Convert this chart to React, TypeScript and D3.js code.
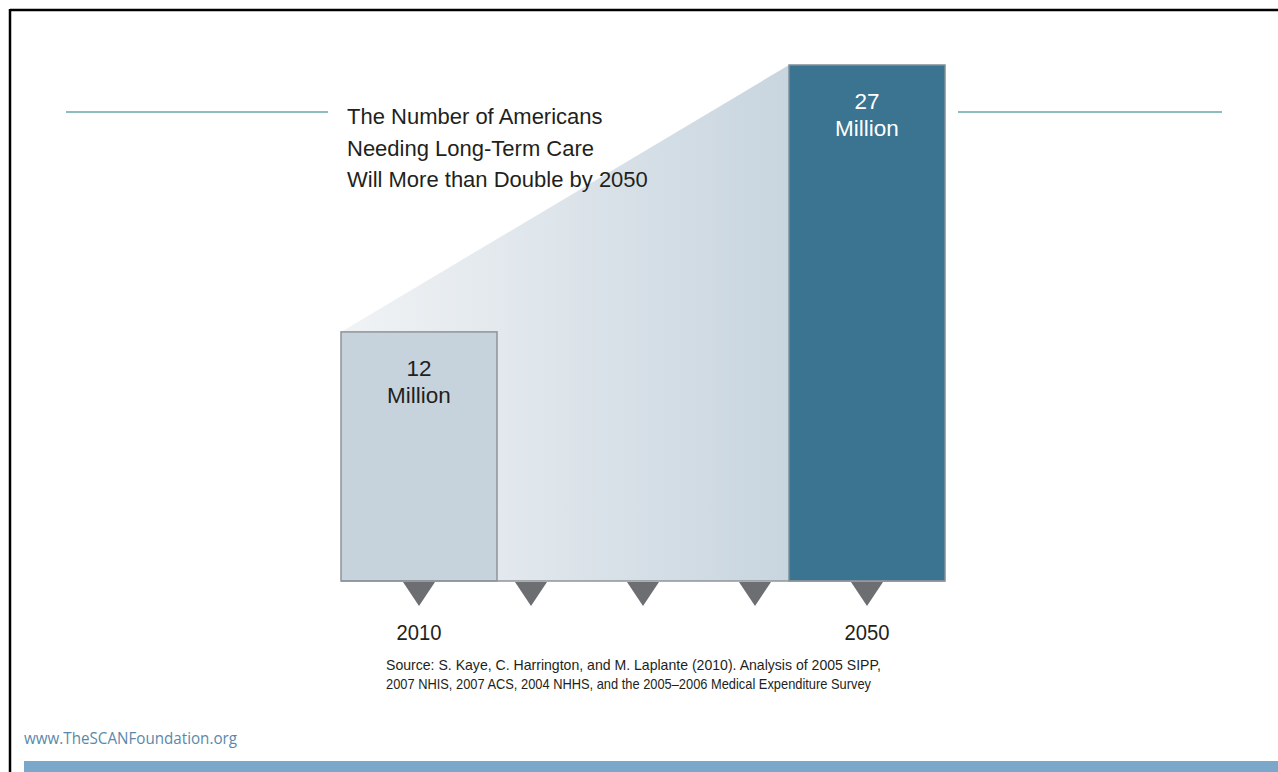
import React from "react";
import * as d3 from "d3";

const years = [2010, 2020, 2030, 2040, 2050];
const barYears = [2010, 2050];
const barValues = [12, 27];
const barLabels = ["12", "27"];
const titleLines = [
  "The Number of Americans",
  "Needing Long-Term Care",
  "Will More than Double by 2050",
];
const yearLabels = ["2010", "2050"];
const sourceLines = [
  "Source: S. Kaye, C. Harrington, and M. Laplante (2010). Analysis of 2005 SIPP,",
  "2007 NHIS, 2007 ACS, 2004 NHHS, and the 2005–2006 Medical Expenditure Survey",
];
const siteLabel = "www.TheSCANFoundation.org";

const W = 1278;
const H = 772;

export default function App() {
  const x = d3.scaleLinear().domain([2010, 2050]).range([419, 867]);
  const y = d3.scaleLinear().domain([-2, 27]).range([581, 65]);
  const bw = 156;
  const base = y(-2);

  const x0 = x(barYears[0]) - bw / 2;
  const x1 = x(barYears[1]) - bw / 2;
  const wedge = [
    [x0, y(barValues[0])],
    [x1, y(barValues[1])],
    [x1, base],
    [x0, base],
  ] as [number, number][];
  const wedgePath = d3.line()(wedge) + "Z";

  const tri = (cx: number) =>
    d3.line()([
      [cx - 16, base + 1],
      [cx + 16, base + 1],
      [cx, base + 25],
    ] as [number, number][]) + "Z";

  const font = "'Liberation Sans', Arial, Helvetica, sans-serif";
  const srcWidths = [495, 485];

  return (
    <svg
      width={W}
      height={H}
      style={{ position: "absolute", left: 0, top: 0, display: "block" }}
    >
      <defs>
        <linearGradient id="wedgeGrad" x1="0" x2="1" y1="0" y2="0">
          <stop offset="0%" stopColor="#F1F3F5" />
          <stop offset="100%" stopColor="#C8D5DF" />
        </linearGradient>
      </defs>
      <rect x={0} y={0} width={W} height={H} fill="#fff" />
      {/* frame */}
      <line x1={10} y1={10} x2={W} y2={10} stroke="#000" strokeWidth={2.5} />
      <line x1={10} y1={9} x2={10} y2={H} stroke="#000" strokeWidth={2.5} />
      {/* bottom band */}
      <rect x={24} y={761} width={W - 24} height={H - 761} fill="#7BA7CB" />

      {/* teal rules */}
      <line x1={66} y1={112} x2={328} y2={112} stroke="#8DBDBE" strokeWidth={2} />
      <line x1={958} y1={112} x2={1222} y2={112} stroke="#8DBDBE" strokeWidth={2} />

      {/* wedge */}
      <path d={wedgePath} fill="url(#wedgeGrad)" />

      {/* title */}
      {titleLines.map((t, i) => (
        <text
          key={i}
          x={347}
          y={124 + i * 31.5}
          fontFamily={font}
          fontSize={22}
          fill="#231F20"
        >
          {t}
        </text>
      ))}

      {/* bars */}
      {barYears.map((yr, i) => (
        <rect
          key={yr}
          x={x(yr) - bw / 2}
          y={y(barValues[i])}
          width={bw}
          height={base - y(barValues[i])}
          fill={i === 0 ? "#C6D3DD" : "#3A7491"}
          stroke={i === 0 ? "#8E9498" : "#7E8E99"}
          strokeWidth={1.5}
        />
      ))}
      {barYears.map((yr, i) => (
        <text
          key={"l" + yr}
          fontFamily={font}
          fontSize={22.5}
          textAnchor="middle"
          fill={i === 0 ? "#231F20" : "#FFFFFF"}
        >
          <tspan x={x(yr)} y={y(barValues[i]) + 44}>
            {barLabels[i]}
          </tspan>
          <tspan x={x(yr)} y={y(barValues[i]) + 71}>
            Million
          </tspan>
        </text>
      ))}

      {/* baseline */}
      <line x1={x0} y1={base} x2={x1 + bw} y2={base} stroke="#8E9498" strokeWidth={1.5} />

      {/* tick triangles */}
      {years.map((yr) => (
        <path key={"t" + yr} d={tri(x(yr))} fill="#6D6E71" />
      ))}

      {/* year labels */}
      {barYears.map((yr, i) => (
        <text
          key={"y" + yr}
          x={x(yr)}
          y={640}
          textAnchor="middle"
          fontFamily={font}
          fontSize={22}
          fill="#231F20"
          textLength={45}
          lengthAdjust="spacingAndGlyphs"
        >
          {yearLabels[i]}
        </text>
      ))}

      {/* source */}
      {sourceLines.map((t, i) => (
        <text
          key={"s" + i}
          x={386}
          y={670 + i * 19}
          fontFamily={font}
          fontSize={14.5}
          fill="#231F20"
          textLength={srcWidths[i]}
          lengthAdjust="spacingAndGlyphs"
        >
          {t}
        </text>
      ))}

      {/* site */}
      <text
        x={24}
        y={744}
        fontFamily="'Open Sans', 'Noto Sans', sans-serif"
        fontSize={15.5}
        fill="#5B88AA"
        textLength={213}
        lengthAdjust="spacingAndGlyphs"
      >
        {siteLabel}
      </text>
    </svg>
  );
}
